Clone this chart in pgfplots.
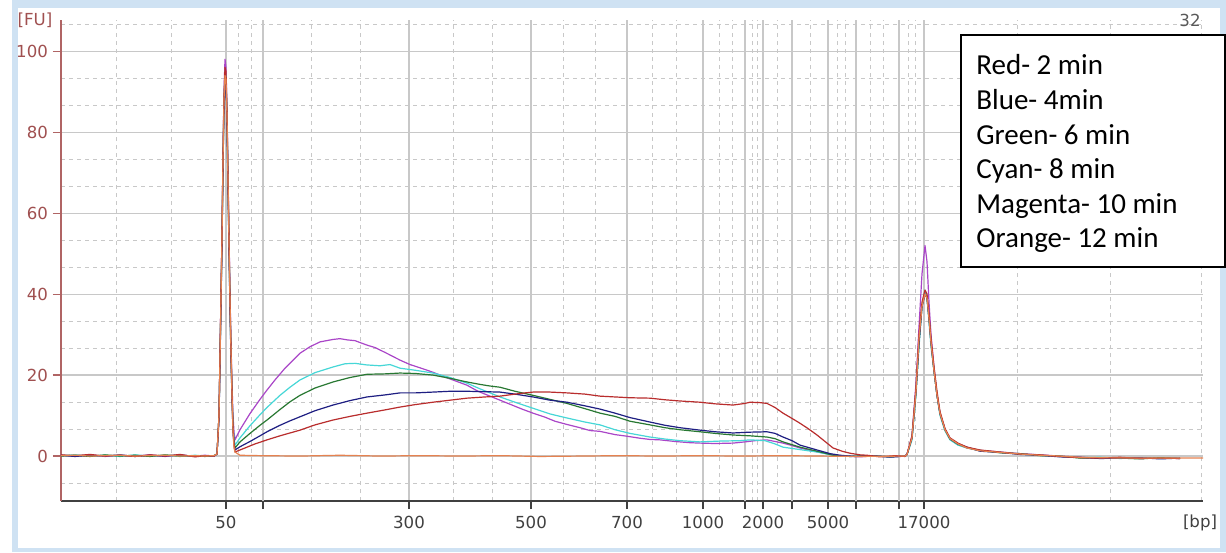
\documentclass[border=0pt]{standalone}
\usepackage{pgfplots}
\pgfplotsset{compat=1.18}
\usepackage{fontspec}
\setmainfont{DejaVu Sans}
\newfontfamily\legfont{Carlito}

\definecolor{framebl}{RGB}{207,226,243}
\definecolor{gridgray}{RGB}{200,200,200}
\definecolor{axisred}{RGB}{176,100,100}
\definecolor{labred}{RGB}{160,80,80}
\definecolor{cred}{RGB}{185,45,45}
\definecolor{cblue}{RGB}{30,30,130}
\definecolor{cgreen}{RGB}{40,120,50}
\definecolor{ccyan}{RGB}{70,215,215}
\definecolor{cmag}{RGB}{170,70,200}
\definecolor{corange}{RGB}{230,130,80}

\begin{document}
\begin{tikzpicture}[x=1pt,y=1pt]
% outer frame (1px = 0.5pt)
\fill[framebl] (6,0) rectangle (613,276);
\fill[white] (9,2) rectangle (610,272);
\useasboundingbox (0,0) rectangle (613,276);

\begin{axis}[
    at={(30.5pt,25.5pt)}, anchor=south west,
    scale only axis,
    width=571pt, height=240.5pt,
    xmin=61, xmax=1203,
    ymin=-11.1, ymax=107.7,
    axis x line*=bottom,
    axis y line*=left,
    x axis line style={-, color=black!75, line width=0.6pt},
    y axis line style={-, color=axisred, line width=0.6pt},
    tick align=outside,
    major tick length=4pt,
    minor tick length=0pt,
    xtick={226,409,531,627,703,763,828,924},
    xticklabels={50,300,500,700,1000,2000,5000,17000},
    extra x ticks={263,745,792,856,899},
    extra x tick labels={},
    extra x tick style={grid=major},
    minor xtick={116,171,238,251,311,360,453,492,563,595,652,676,719,732,752,757,777,810,837,845,870,883,908,915,1017,1110,1201},
    ytick={0,20,40,60,80,100},
    yticklabels={0,20,40,60,80,100},
    minor ytick={-6.667,6.667,13.333,26.667,33.333,46.667,53.333,66.667,73.333,86.667,93.333,106.667},
    xmajorgrids, xminorgrids, ymajorgrids, yminorgrids,
    major grid style={color=gridgray, line width=0.6pt},
    minor grid style={color=gridgray, line width=0.5pt, dash pattern=on 2pt off 2pt},
    x tick style={color=black!75, line width=0.6pt},
    y tick style={color=axisred, line width=0.6pt},
    xticklabel style={font=\fontsize{8.3}{9}\selectfont, text=black!75},
    yticklabel style={font=\fontsize{8.3}{9}\selectfont, text=labred, xshift=1pt},
    /pgf/number format/assume math mode=true,
    every axis plot/.append style={line width=0.6pt, line join=round},
]
% Magenta - 10 min
\addplot[cmag] coordinates {
(61,0.2)(75,0.0)(90,0.3)(105,-0.1)(120,0.2)(135,0.0)(150,0.3)(165,-0.1)(180,0.2)(195,0.0)(205,0.2)(214,0.0)
(217,0.5)(219,10)(220,25)(222,55)(223,75)(224,90)(225,98)(226,96)(227,86)(228,70)(229,55)(230,40)(231,28)(232,18)(233,10)(234,6)(235,4.0)
(240,6.5)(250,10.5)(260,14.0)(267,16.3)(275,18.8)(285,21.7)(300,25.4)(310,27.0)(320,28.2)(333,28.8)(340,29.0)(347,28.7)(355,28.5)
(367,27.4)(375,26.8)(385,25.6)(400,23.7)(410,22.6)(420,21.8)(433,20.7)(445,19.5)(455,18.6)(467,17.5)(478,16.0)(490,14.8)(500,13.8)
(512,12.6)(522,11.6)(533,10.6)(545,9.6)(555,8.6)(567,7.8)(580,7.0)(590,6.3)(600,6.1)(615,5.3)(627,4.9)(640,4.4)(650,4.1)(660,4.0)
(675,3.6)(690,3.3)(700,3.2)(715,3.1)(733,3.2)(745,3.5)(755,3.8)(767,4.0)(775,3.6)(783,3.2)(792,2.6)(800,2.0)(810,1.4)(820,0.9)
(833,0.3)(845,0.0)(860,-0.2)(875,0.1)(890,-0.3)(905,0.0)
(907,0.5)(912,5)(916,18)(919,32)(922,45)(925,52)(927,48)(929,38)(931,30)(934,22)(937,15)(940,10.5)(945,6.5)(950,4.2)(958,2.8)
(967,2.0)(980,1.4)(1000,1.0)(1020,0.6)(1040,0.3)(1060,0.0)(1080,-0.3)(1100,-0.5)(1120,-0.4)(1140,-0.6)(1160,-0.5)(1180,-0.6)
};
% Cyan - 8 min
\addplot[ccyan] coordinates {
(61,0.1)(75,0.3)(90,0.0)(105,0.2)(120,-0.1)(135,0.3)(150,0.0)(165,0.2)(180,-0.1)(195,0.2)(205,0.0)(214,0.1)
(217,0.5)(219,10)(220,24)(222,54)(223,73)(224,88)(225,95)(226,94)(227,84)(228,68)(229,53)(230,38)(231,26)(232,16)(233,8)(234,4.5)(235,2.7)
(240,4.5)(250,7.5)(260,10.2)(267,12.0)(280,15.0)(290,17.0)(300,18.8)(315,20.6)(333,22.0)(345,22.8)(355,22.9)(367,22.5)(380,22.3)
(390,22.6)(400,21.7)(415,21.2)(433,20.5)(450,19.4)(467,18.0)(480,16.6)(490,15.6)(500,14.6)(515,13.3)(533,11.8)(550,10.4)(567,9.4)
(585,8.4)(600,7.7)(615,6.5)(630,5.6)(650,4.7)(665,4.2)(680,3.8)(700,3.5)(720,3.7)(740,3.8)(750,4.0)(765,3.8)(775,3.0)(783,2.2)
(800,1.6)(817,1.0)(833,0.2)(850,-0.1)(870,0.1)(890,-0.2)(905,0.0)
(907,0.3)(912,4)(916,15)(919,27)(922,37)(925,41)(927,39)(929,33)(931,27)(934,21)(937,15)(940,10)(945,6.2)(950,4.0)(958,2.7)
(967,2.0)(980,1.3)(1000,0.9)(1020,0.5)(1040,0.2)(1060,-0.1)(1080,-0.4)(1100,-0.3)(1120,-0.6)(1140,-0.4)(1160,-0.6)(1180,-0.5)
};
% Green - 6 min
\addplot[cgreen] coordinates {
(61,0.0)(75,0.2)(90,-0.1)(105,0.3)(120,0.0)(135,0.2)(150,-0.1)(165,0.3)(180,0.0)(195,0.1)(205,-0.1)(214,0.1)
(217,0.5)(219,10)(220,24)(222,53)(223,72)(224,87)(225,93)(226,92)(227,83)(228,67)(229,52)(230,37)(231,25)(232,15)(233,7)(234,3.5)(235,2.0)
(240,3.5)(250,5.6)(260,7.6)(267,8.9)(280,11.5)(290,13.4)(300,15.0)(315,16.8)(333,18.3)(350,19.4)(367,20.2)(385,20.3)(400,20.5)
(415,20.4)(433,20.0)(450,19.2)(467,18.3)(480,17.7)(490,17.3)(500,17.0)(515,16.0)(533,15.0)(550,14.0)(567,13.0)(585,11.7)(600,10.6)
(615,9.8)(630,8.6)(650,7.7)(665,7.0)(680,6.5)(700,6.0)(715,5.6)(733,5.2)(750,5.0)(767,4.7)(775,4.3)(783,3.5)(800,2.2)(817,1.2)
(833,0.2)(850,-0.1)(870,0.1)(890,-0.2)(905,0.0)
(907,0.4)(912,4.5)(916,16)(919,28)(922,37)(925,40)(927,39)(929,34)(931,28)(934,21)(937,15)(940,10.5)(945,6.5)(950,4.2)(958,2.9)
(967,2.1)(980,1.4)(1000,0.8)(1020,0.6)(1040,0.1)(1060,0.0)(1080,-0.5)(1100,-0.4)(1120,-0.5)(1140,-0.7)(1160,-0.4)(1180,-0.6)
};
% Blue - 4 min
\addplot[cblue] coordinates {
(61,0.2)(75,-0.1)(90,0.2)(105,0.0)(120,0.3)(135,-0.1)(150,0.2)(165,0.0)(180,0.3)(195,-0.1)(205,0.1)(214,0.0)
(217,0.5)(219,9)(220,23)(222,52)(223,71)(224,86)(225,92)(226,91)(227,82)(228,66)(229,51)(230,36)(231,24)(232,14)(233,6)(234,3)(235,1.5)
(240,2.3)(250,3.6)(260,5.0)(267,6.0)(280,7.6)(290,8.7)(300,9.7)(315,11.2)(333,12.6)(350,13.7)(367,14.6)(385,15.1)(400,15.6)
(415,15.6)(433,15.8)(450,16.0)(467,16.0)(485,15.9)(500,15.8)(515,15.3)(533,14.6)(550,13.8)(567,13.3)(585,12.4)(600,11.6)(615,10.6)
(630,9.5)(650,8.4)(665,7.6)(680,7.0)(700,6.4)(715,6.0)(733,5.7)(750,5.9)(767,6.0)(775,5.6)(783,4.7)(792,3.8)(800,2.7)(810,2.0)
(817,1.5)(830,0.6)(840,0.2)(855,-0.1)(870,0.1)(890,-0.2)(905,0.0)
(907,0.4)(912,4.5)(916,16)(919,28)(922,37)(925,40)(927,39)(929,34)(931,28)(934,21)(937,15)(940,10.5)(945,6.6)(950,4.3)(958,3.0)
(967,2.2)(980,1.2)(1000,0.9)(1020,0.4)(1040,0.2)(1060,-0.2)(1080,-0.3)(1100,-0.6)(1120,-0.5)(1140,-0.4)(1160,-0.7)(1180,-0.5)
};
% Red - 2 min
\addplot[cred] coordinates {
(61,0.3)(75,0.1)(90,0.4)(105,0.0)(120,0.2)(135,-0.1)(150,0.3)(165,0.0)(180,0.4)(195,-0.2)(205,0.1)(214,0.0)
(217,0.5)(219,10)(220,25)(222,55)(223,74)(224,89)(225,96)(226,95)(227,85)(228,69)(229,54)(230,39)(231,27)(232,16)(233,7)(234,3)(235,1.0)
(245,2.0)(255,3.0)(267,4.0)(280,5.0)(290,5.7)(300,6.4)(315,7.7)(333,8.9)(350,9.8)(367,10.6)(385,11.4)(400,12.1)(415,12.7)(433,13.3)
(450,13.8)(467,14.3)(485,14.6)(500,14.8)(515,15.3)(525,15.6)(533,15.8)(550,15.8)(567,15.6)(585,15.3)(600,14.8)(615,14.6)(630,14.4)
(650,14.3)(665,13.9)(680,13.6)(700,13.3)(715,12.9)(733,12.6)(745,13.0)(750,13.3)(760,13.2)(767,13.0)(775,12.0)(783,10.6)(792,9.3)
(800,8.1)(808,6.8)(817,5.2)(825,3.6)(833,2.0)(842,1.2)(850,0.7)(860,0.3)(867,0.2)(880,-0.2)(895,0.1)(905,-0.1)
(907,0.4)(912,5)(916,17)(919,30)(922,38)(925,41)(927,40)(929,35)(931,29)(934,22)(937,16)(940,11)(945,6.8)(950,4.5)(958,3.2)
(967,2.2)(980,1.5)(1000,1.0)(1020,0.5)(1040,0.3)(1060,-0.1)(1080,-0.4)(1100,-0.5)(1120,-0.3)(1140,-0.6)(1160,-0.5)(1180,-0.6)
};
% Orange - 12 min
\addplot[corange] coordinates {
(61,0.1)(75,0.2)(90,0.0)(105,0.1)(120,0.2)(135,0.0)(150,0.1)(165,0.2)(180,0.0)(195,0.1)(205,0.0)(214,0.1)
(217,0.5)(219,10)(220,24)(222,54)(223,73)(224,88)(225,94)(226,93)(227,84)(228,68)(229,53)(230,38)(231,26)(232,15)(233,6)(234,2)(235,1.0)
(240,0.2)(260,0.1)(300,0.0)(340,0.2)(380,0.0)(420,0.1)(460,0.0)(500,0.1)(540,-0.1)(580,0.0)(620,0.1)(660,0.0)(700,0.1)(740,0.0)
(780,0.1)(820,0.0)(860,-0.1)(905,0.0)
(907,0.4)(912,4.5)(916,16)(919,29)(922,37)(925,40)(927,39)(929,34)(931,28)(934,21)(937,15)(940,10.5)(945,6.5)(950,4.3)(958,3.0)
(967,2.0)(980,1.3)(1000,0.9)(1020,0.5)(1040,0.2)(1060,0.0)(1080,-0.3)(1100,-0.4)(1120,-0.5)(1140,-0.5)(1160,-0.5)(1180,-0.5)(1203,-0.5)
};
\end{axis}

% axis annotations
\node[font=\fontsize{8.3}{9}\selectfont, text=labred] at (17.5,266) {[FU]};
\node[font=\fontsize{8.3}{9}\selectfont, text=black!65] at (595,266) {32};
\node[font=\fontsize{8.3}{9}\selectfont, text=black!75] at (600,14.5) {[bp]};

% legend box
\draw[line width=0.8pt, fill=white] (480.5,142.5) rectangle (612.5,258.5);
\begin{scope}[every node/.style={anchor=base west, inner sep=0pt, font=\legfont\fontsize{14.5}{16}\selectfont}]
\node at (488,238.5) {Red- 2 min};
\node at (488,221.2) {Blue- 4min};
\node at (488,203.9) {Green- 6 min};
\node at (488,186.6) {Cyan- 8 min};
\node at (488,169.3) {Magenta- 10 min};
\node at (488,152.0) {Orange- 12 min};
\end{scope}
\end{tikzpicture}
\end{document}
